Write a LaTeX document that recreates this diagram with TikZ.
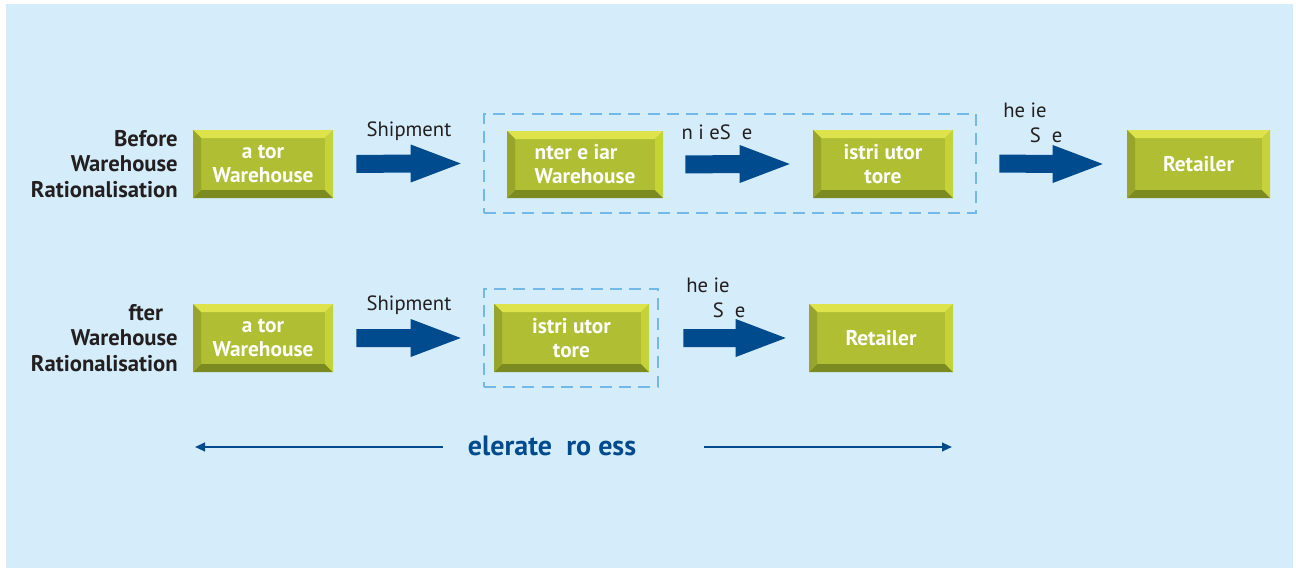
\documentclass[tikz,border=0pt]{standalone}
\usepackage{fontspec}
\setmainfont{PT Sans}
\usetikzlibrary{calc,arrows.meta,fit}

\definecolor{bgblue}{HTML}{D5EDFA}
\definecolor{arrowblue}{HTML}{004B8D}
\definecolor{dashblue}{HTML}{72B8E8}
\definecolor{inkgrey}{HTML}{231F20}
\definecolor{faceg}{HTML}{AFBE32}
\definecolor{topg}{HTML}{DEE34C}
\definecolor{leftg}{HTML}{97A62A}
\definecolor{rightg}{HTML}{C6D338}
\definecolor{botg}{HTML}{7C8A22}

% block arrow from node #1 (gap #2) to node #3 (gap #4), fixed head length
\newcommand\blockarrow[4]{%
  \path ($(#1.east)+(#2,0)$) coordinate (ba-s)
        ($(#3.west)+(-#4,0)$) coordinate (ba-t);
  \fill[arrowblue] ($(ba-s)+(0,-9)$) -- ($(ba-t)+(-50,-9)$) -- ($(ba-t)+(-50,-19)$)
     -- (ba-t) -- ($(ba-t)+(-50,19)$) -- ($(ba-t)+(-50,9)$) -- ($(ba-s)+(0,9)$) -- cycle;}

\tikzset{
  bevelbox/.style={
    rectangle, fill=faceg, inner sep=0pt, text=white,
    font=\fontsize{16}{18}\selectfont\bfseries, align=center,
    path picture={
      \fill[topg] (path picture bounding box.north west) -- (path picture bounding box.north east)
        -- ([shift={(-6pt,-6pt)}]path picture bounding box.north east)
        -- ([shift={(6pt,-6pt)}]path picture bounding box.north west) -- cycle;
      \fill[botg] (path picture bounding box.south west) -- (path picture bounding box.south east)
        -- ([shift={(-6pt,6pt)}]path picture bounding box.south east)
        -- ([shift={(6pt,6pt)}]path picture bounding box.south west) -- cycle;
      \fill[leftg] (path picture bounding box.north west) -- (path picture bounding box.south west)
        -- ([shift={(6pt,6pt)}]path picture bounding box.south west)
        -- ([shift={(6pt,-6pt)}]path picture bounding box.north west) -- cycle;
      \fill[rightg] (path picture bounding box.north east) -- (path picture bounding box.south east)
        -- ([shift={(-6pt,6pt)}]path picture bounding box.south east)
        -- ([shift={(-6pt,-6pt)}]path picture bounding box.north east) -- cycle;
    }},
  framebox/.style={draw=dashblue, line width=1.5pt, dash pattern=on 9pt off 5.5pt, inner sep=0pt},
  rowlabel/.style={anchor=east, align=right, inner sep=0pt, text=inkgrey, font=\fontsize{17}{19}\selectfont\bfseries},
  flowlabel/.style={text=inkgrey, font=\fontsize{15.5}{18.75}\selectfont},
  spanline/.style={draw=arrowblue, line width=1.5pt, -{Triangle[length=7.5pt,width=6.5pt]}}
}

\begin{document}
\begin{tikzpicture}[x=0.75pt,y=-0.75pt]
  \useasboundingbox (0,0) rectangle (1296,571);
  \fill[white] (0,0) rectangle (1296,571);
  \fill[bgblue] (6,4) rectangle (1293,568);

  % upper flow
  \node[rowlabel] (L1) at (178,164) {Before\\Warehouse\\Rationalisation};
  \node[bevelbox, minimum width=105pt, minimum height=51pt] (A1) at (263,164) {a tor\\Warehouse};
  \node[bevelbox, minimum width=117pt, minimum height=50.25pt, align=left] (B1) at (585,164.5) {nter e iar\\Warehouse};
  \node[bevelbox, minimum width=105pt, minimum height=51pt] (C1) at (883,164) {istri utor\\tore};
  \node[bevelbox, minimum width=107.25pt, minimum height=51pt] (D1) at (1198.5,164) {Retailer};
  \coordinate (F1a) at ($(B1.north west)+(-23,-17)$);
  \coordinate (F1b) at ($(C1.south east)+(23,15)$);
  \node[framebox, fit={(F1a) (F1b)}] (F1) {};

  \blockarrow{A1}{23}{F1}{22}
  \blockarrow{B1}{22}{C1}{23}
  \blockarrow{F1}{22}{D1}{24}

  \node[flowlabel] (s1) at (409,131) {Shipment};
  \node[flowlabel] (c1) at (717,132) {n i eS \ e};
  \node[flowlabel, anchor=north west, align=left, inner sep=0pt] (h1) at (1003,103) {he ie\\\hspace*{20pt}S \ e};

  % lower flow
  \node[rowlabel] (L2) at (178,338) {fter\hspace*{11pt}\\Warehouse\\Rationalisation};
  \node[bevelbox, minimum width=105pt, minimum height=51pt] (A2) at (263,338) {a tor\\Warehouse};
  \node[bevelbox, minimum width=116.25pt, minimum height=51pt] (C2) at (571.5,338) {istri utor\\tore};
  \node[bevelbox, minimum width=108pt, minimum height=51pt] (D2) at (881,338) {Retailer};
  \coordinate (F2a) at ($(C2.north west)+(-10,-15)$);
  \coordinate (F2b) at ($(C2.south east)+(9,15)$);
  \node[framebox, fit={(F2a) (F2b)}] (F2) {};

  \blockarrow{A2}{23}{F2}{22}
  \blockarrow{F2}{24}{D2}{23}

  \node[flowlabel] (s2) at (409,305) {Shipment};
  \node[flowlabel, anchor=north west, align=left, inner sep=0pt] (h2) at (686,278) {he ie\\\hspace*{20pt}S \ e};

  % span of the process
  \node[text=arrowblue, inner sep=0pt, font=\fontsize{21}{24}\selectfont\bfseries] (acc) at (552,446) {elerate \ ro ess};
  \coordinate (accL) at (195,447);
  \coordinate (accR) at (952,447);
  \draw[spanline] ($(acc.west)+(-25,1)$) -- (accL);
  \draw[spanline] ($(acc.east)+(68,1)$) -- (accR);
\end{tikzpicture}
\end{document}
